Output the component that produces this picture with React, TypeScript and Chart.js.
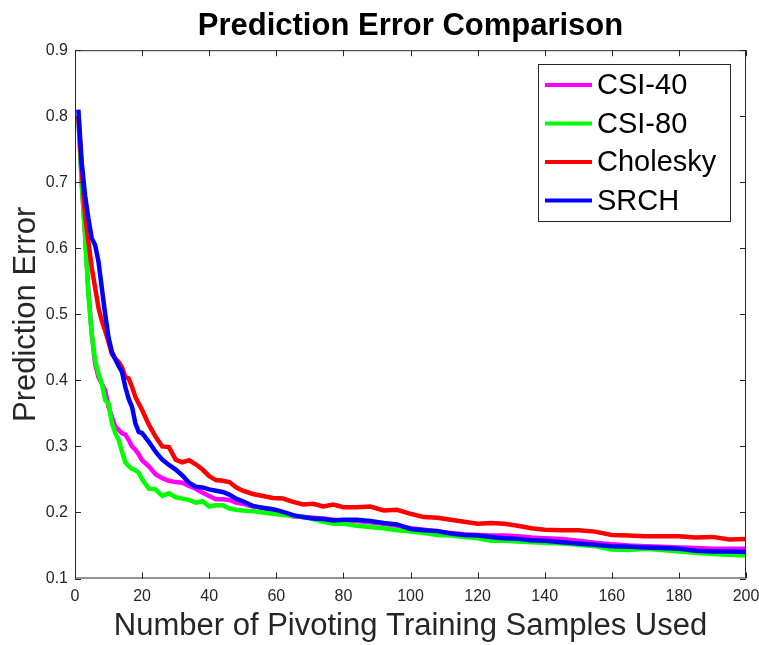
import React, { useEffect, useRef } from "react";
import { Chart, registerables } from "chart.js";

Chart.register(...registerables);

// ---------- data ----------
const samples = [
  1, 2, 3, 4, 5, 6, 7, 8, 9, 10, 11, 12, 13, 14, 15, 16, 17, 18, 19, 20,
  22, 24, 26, 28, 30, 32, 34, 36, 38, 40, 42, 44, 46, 48, 50,
  53, 56, 59, 62, 65, 68, 71, 74, 77, 80,
  84, 88, 92, 96, 100, 104, 108, 112, 116, 120, 124, 128, 132, 136, 140,
  145, 150, 155, 160, 165, 170, 175, 180, 185, 190, 195, 200,
];

const csi40 = [
  0.8, 0.7, 0.62, 0.535, 0.47, 0.425, 0.405, 0.395, 0.385, 0.36, 0.345, 0.33, 0.325, 0.32, 0.318, 0.31, 0.3, 0.295, 0.288, 0.279,
  0.27, 0.258, 0.252, 0.248, 0.246, 0.245, 0.24, 0.236, 0.23, 0.225, 0.22, 0.22, 0.219, 0.215, 0.213,
  0.209, 0.207, 0.203, 0.199, 0.194, 0.193, 0.192, 0.191, 0.189, 0.188,
  0.187, 0.185, 0.183, 0.18, 0.176, 0.174, 0.171, 0.169, 0.167, 0.166, 0.165, 0.165, 0.164, 0.162, 0.161,
  0.16, 0.157, 0.154, 0.152, 0.15, 0.149, 0.148, 0.147, 0.146, 0.145, 0.145, 0.145,
];

const csi80 = [
  0.8, 0.7, 0.62, 0.53, 0.47, 0.43, 0.41, 0.395, 0.37, 0.365, 0.335, 0.32, 0.31, 0.292, 0.276, 0.27, 0.266, 0.264, 0.26, 0.25,
  0.236, 0.235, 0.225, 0.229, 0.223, 0.221, 0.219, 0.215, 0.217, 0.209, 0.211, 0.211, 0.206, 0.204, 0.203,
  0.202, 0.2, 0.198, 0.196, 0.195, 0.193, 0.19, 0.186, 0.183, 0.183,
  0.18, 0.178, 0.176, 0.173, 0.171, 0.169, 0.166, 0.165, 0.163, 0.161, 0.157, 0.157, 0.156, 0.155, 0.154,
  0.153, 0.151, 0.149, 0.144, 0.143, 0.145, 0.143, 0.141, 0.139, 0.137, 0.136, 0.135,
];

const cholesky = [
  0.8, 0.72, 0.65, 0.61, 0.57, 0.54, 0.51, 0.49, 0.475, 0.458, 0.44, 0.433, 0.428, 0.42, 0.405, 0.403, 0.39, 0.375, 0.365, 0.355,
  0.333, 0.315, 0.3, 0.299, 0.28, 0.276, 0.279, 0.273, 0.265, 0.255, 0.249, 0.248, 0.246, 0.238, 0.233,
  0.228, 0.225, 0.222, 0.221, 0.216, 0.212, 0.213, 0.209, 0.212, 0.208,
  0.208, 0.209, 0.203, 0.204, 0.198, 0.193, 0.192, 0.189, 0.186, 0.183, 0.184, 0.183, 0.18, 0.176, 0.174,
  0.173, 0.173, 0.171, 0.166, 0.165, 0.164, 0.164, 0.164, 0.162, 0.163, 0.159, 0.16,
];

const srch = [
  0.81, 0.73, 0.68, 0.645, 0.615, 0.605, 0.58, 0.54, 0.5, 0.465, 0.443, 0.432, 0.422, 0.413, 0.39, 0.372, 0.36, 0.335, 0.322, 0.32,
  0.307, 0.292, 0.28, 0.272, 0.265, 0.256, 0.245, 0.239, 0.238, 0.235, 0.233, 0.231, 0.227, 0.221, 0.217,
  0.21, 0.207, 0.205, 0.201, 0.196, 0.193, 0.191, 0.19, 0.188, 0.189,
  0.189, 0.187, 0.184, 0.182, 0.175, 0.173, 0.172, 0.168, 0.166, 0.165, 0.163, 0.161, 0.16, 0.158, 0.157,
  0.155, 0.153, 0.151, 0.149, 0.148, 0.147, 0.146, 0.145, 0.142, 0.141, 0.141, 0.14,
];

const seriesNames = ["CSI-40", "CSI-80", "Cholesky", "SRCH"];
const seriesValues = [csi40, csi80, cholesky, srch];
const seriesColors = ["#ff00ff", "#00ff00", "#ff0000", "#0000ff"];

const xTicks = [0, 20, 40, 60, 80, 100, 120, 140, 160, 180, 200];
const yTicks = [0.1, 0.2, 0.3, 0.4, 0.5, 0.6, 0.7, 0.8, 0.9];

const titleText = "Prediction Error Comparison";
const xTitle = "Number of Pivoting Training Samples Used";
const yTitle = "Prediction Error";

const FONT = '"Liberation Sans", Arial, Helvetica, sans-serif';
const AXIS = "#262626";

const framePlugin = {
  id: "matlabFrame",
  afterDatasetsDraw(chart: any) {
    const { ctx, chartArea: a, scales } = chart;
    const xs = scales.x;
    const ys = scales.y;
    ctx.save();
    ctx.strokeStyle = AXIS;
    ctx.lineWidth = 1;
    ctx.beginPath();
    ctx.rect(a.left + 0.5, a.top + 0.5, a.right - a.left - 1, a.bottom - a.top - 1);
    ctx.stroke();
    const tl = 6;
    ctx.beginPath();
    for (const t of xTicks) {
      const px = Math.round(xs.getPixelForValue(t)) + 0.5;
      ctx.moveTo(px, a.bottom);
      ctx.lineTo(px, a.bottom - tl);
      ctx.moveTo(px, a.top);
      ctx.lineTo(px, a.top + tl);
    }
    for (const t of yTicks) {
      const py = Math.round(ys.getPixelForValue(t)) + 0.5;
      ctx.moveTo(a.left, py);
      ctx.lineTo(a.left + tl, py);
      ctx.moveTo(a.right, py);
      ctx.lineTo(a.right - tl, py);
    }
    ctx.stroke();

    // legend
    const lx = 538.5, ly = 64.5, lw = 192, lh = 157;
    ctx.fillStyle = "#ffffff";
    ctx.fillRect(lx, ly, lw, lh);
    ctx.strokeStyle = AXIS;
    ctx.lineWidth = 1;
    ctx.strokeRect(lx, ly, lw, lh);
    ctx.font = `29px ${FONT}`;
    ctx.textBaseline = "middle";
    ctx.textAlign = "left";
    seriesNames.forEach((name, i) => {
      const cy = 85 + i * 38.5;
      ctx.strokeStyle = seriesColors[i];
      ctx.lineWidth = 4;
      ctx.beginPath();
      ctx.moveTo(545, cy);
      ctx.lineTo(592, cy);
      ctx.stroke();
      ctx.fillStyle = "#000000";
      ctx.fillText(name, 597, cy + 1);
    });
    ctx.restore();
  },
};

export default function App() {
  const ref = useRef<HTMLCanvasElement | null>(null);

  useEffect(() => {
    document.body.style.margin = "0";
    const canvas = ref.current;
    if (!canvas) return;
    const drawOrder = [3, 2, 1, 0];
    const chart = new Chart(canvas, {
      type: "line",
      data: {
        datasets: seriesNames.map((name, i) => ({
          label: name,
          data: samples.map((x, j) => ({ x, y: seriesValues[i][j] })),
          borderColor: seriesColors[i],
          backgroundColor: seriesColors[i],
          borderWidth: 4.5,
          pointRadius: 0,
          tension: 0,
          fill: false,
          order: drawOrder[i],
        })),
      },
      options: {
        responsive: false,
        animation: false,
        layout: { padding: { left: 0, right: 13, top: 0, bottom: 0 } },
        plugins: {
          legend: { display: false },
          tooltip: { enabled: false },
          title: {
            display: true,
            fullSize: false,
            text: titleText,
            color: "#000000",
            font: { family: FONT, size: 31, weight: "bold" },
            padding: { top: 8, bottom: 5 },
          },
        },
        scales: {
          x: {
            type: "linear",
            min: 0,
            max: 200,
            afterBuildTicks: (s: any) => {
              s.ticks = xTicks.map((v) => ({ value: v }));
            },
            afterFit: (s: any) => {
              s.height = 66.5;
              s.paddingLeft = 0;
              s.paddingRight = 0;
            },
            grid: { display: false, drawTicks: false },
            border: { display: false },
            ticks: {
              color: AXIS,
              font: { family: FONT, size: 16 },
              padding: 8,
              maxRotation: 0,
              autoSkip: false,
            },
            title: {
              display: true,
              text: xTitle,
              color: AXIS,
              font: { family: FONT, size: 31 },
              padding: { top: 0, bottom: 0 },
            },
          },
          y: {
            type: "linear",
            min: 0.1,
            max: 0.9,
            afterBuildTicks: (s: any) => {
              s.ticks = yTicks.map((v) => ({ value: v }));
            },
            afterFit: (s: any) => {
              s.width = 75;
              s.paddingTop = 0;
              s.paddingBottom = 0;
            },
            grid: { display: false, drawTicks: false },
            border: { display: false },
            ticks: {
              color: AXIS,
              font: { family: FONT, size: 16 },
              padding: 7,
              autoSkip: false,
              callback: (v: any) => Number(v).toFixed(1),
            },
            title: {
              display: true,
              text: yTitle,
              color: AXIS,
              font: { family: FONT, size: 31 },
              padding: { top: 8, bottom: 0 },
            },
          },
        },
      },
      plugins: [framePlugin],
    } as any);
    return () => chart.destroy();
  }, []);

  return (
    <div style={{ width: 759, height: 645 }}>
      <canvas ref={ref} width={759} height={645} style={{ display: "block" }} />
    </div>
  );
}
